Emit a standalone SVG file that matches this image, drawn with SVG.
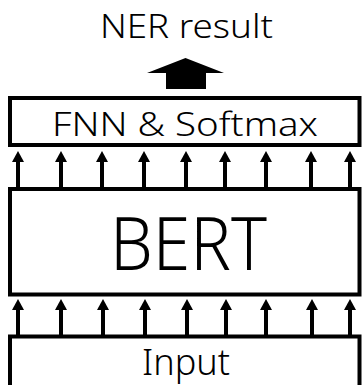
<svg xmlns="http://www.w3.org/2000/svg" width="362" height="385" viewBox="0 0 362 385">
<style>
.box{fill:#fff;stroke:#000;stroke-width:4}
.t{font-family:"Noto Sans","Open Sans","DejaVu Sans",sans-serif;font-weight:300;fill:#000;text-anchor:middle}
.sh{stroke:#000;stroke-width:4}
</style>
<defs>
<path id="head" d="M-6,11 L0,0 L6,11 Z" fill="#000"/>
</defs>
<rect width="362" height="385" fill="#fff"/>
<g id="ner-result">
<text class="t" x="186.5" y="37.5" font-size="33" textLength="173" lengthAdjust="spacingAndGlyphs">NER result</text>
</g>
<g id="fnn">
<rect class="box" x="10" y="98" width="349.5" height="47"/>
<text class="t" x="185" y="136" font-size="33" textLength="266" lengthAdjust="spacingAndGlyphs">FNN &amp; Softmax</text>
</g>
<g id="bert">
<rect class="box" x="10" y="189" width="349.5" height="105.5"/>
<text class="t" x="188.5" y="270" font-size="74" textLength="157" lengthAdjust="spacingAndGlyphs">BERT</text>
</g>
<g id="input">
<rect class="box" x="10" y="336.5" width="349.5" height="60"/>
<text class="t" x="186" y="375" font-size="36" textLength="88" lengthAdjust="spacingAndGlyphs">Input</text>
</g>
<g id="connectors">
<polygon points="185.5,58 224,73 206,73 206,89 166,89 166,73 147,73" fill="#000"/>
<g id="upper">
<path class="sh" d="M18,161V187M61,161V187M102,161V187M144,161V187M186,161V187M225,161V187M266,161V187M311,161V187M350,161V187"/>
<use href="#head" x="18" y="151"/><use href="#head" x="61" y="151"/><use href="#head" x="102" y="151"/><use href="#head" x="144" y="151"/><use href="#head" x="186" y="151"/><use href="#head" x="225" y="151"/><use href="#head" x="266" y="151"/><use href="#head" x="311" y="151"/><use href="#head" x="350" y="151"/>
</g>
<g id="lower">
<path class="sh" d="M18,309V335M61,309V335M103,309V335M145,309V335M187,309V335M226,309V335M266,309V335M312,309V335M350,309V335"/>
<use href="#head" x="18" y="299"/><use href="#head" x="61" y="299"/><use href="#head" x="103" y="299"/><use href="#head" x="145" y="299"/><use href="#head" x="187" y="299"/><use href="#head" x="226" y="299"/><use href="#head" x="266" y="299"/><use href="#head" x="312" y="299"/><use href="#head" x="350" y="299"/>
</g>
</g>
</svg>
